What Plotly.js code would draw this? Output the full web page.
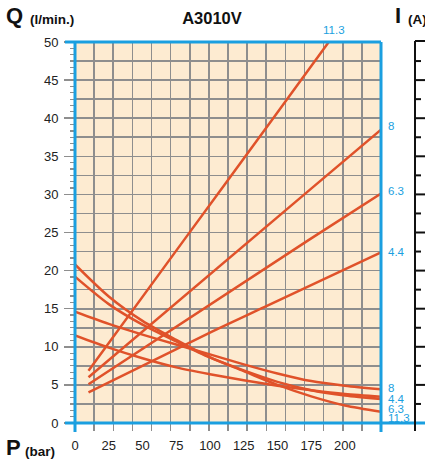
<!DOCTYPE html>
<html>
<head>
<meta charset="utf-8">
<script src="https://cdn.plot.ly/plotly-3.0.1.min.js"></script>
<style>html,body{margin:0;padding:0;background:#fff;}#chart{width:425px;height:464px;}</style>
</head>
<body>
<div id="chart"></div>
<script>
// ---- data ----
var xTickVals = [0, 25, 50, 75, 100, 125, 150, 175, 200];
var yTickVals = [0, 5, 10, 15, 20, 25, 30, 35, 40, 45, 50];
var pMax = 226.7;

// rising lines (current curves)
var riseLabels = ['11.3', '8', '6.3', '4.4'];
var riseP_113 = [10, 80.7, 145.9, 188];
var riseV_113 = [6.86, 24.0, 39.76, 50];
var riseP_8 = [10, 170.6, 226.7];
var riseV_8 = [6.0, 30.1, 38.5];
var riseP_63 = [10, 173, 226.7];
var riseV_63 = [5.08, 24.0, 30.1];
var riseP_44 = [10, 101.5, 141, 226.7];
var riseV_44 = [4.03, 11.98, 15.26, 22.4];

// falling curves (flow curves)
var fallP = [0, 25, 50, 75, 100, 125, 150, 175, 200, 226.7];
var fallV_113 = [20.8, 16.6, 13.4, 10.9, 8.6, 6.8, 5.0, 3.5, 2.3, 1.48];
var fallV_63 = [19.2, 15.6, 12.9, 10.7, 8.6, 6.9, 5.4, 4.3, 3.6, 3.15];
var fallV_44 = [11.5, 9.9, 8.5, 7.3, 6.4, 5.6, 4.9, 4.3, 3.8, 3.45];
var fallV_8 = [14.6, 13.0, 11.6, 10.3, 9.0, 7.7, 6.5, 5.5, 4.9, 4.42];

// label positions at the right end
var riseLabelV = [null, 38.98, 30.4, 22.4];
var fallLabels = ['8', '4.4', '6.3', '11.3'];
var fallLabelV = [4.59, 3.2, 1.84, 0.70];

// ---- style ----
var curveColor = '#e0522a';
var blue = '#1a9fe0';
var gridColor = '#8e8e8e';
var font = 'Liberation Sans, Arial, sans-serif';

function line(x, y) {
  return {x: x, y: y, type: 'scatter', mode: 'lines', line: {color: curveColor, width: 2.5, shape: 'spline', smoothing: 0.8},
    hoverinfo: 'skip', showlegend: false, cliponaxis: true};
}

var traces = [
  line(riseP_113, riseV_113), line(riseP_8, riseV_8), line(riseP_63, riseV_63), line(riseP_44, riseV_44),
  line(fallP, fallV_113), line(fallP, fallV_63), line(fallP, fallV_44), line(fallP, fallV_8),
  {x: [0], y: [0], xaxis: 'x', yaxis: 'y2', type: 'scatter', mode: 'markers', marker: {opacity: 0}, hoverinfo: 'skip', showlegend: false}
];

// geometry helpers (plot area 75..381 x, 42..423 y)
var L = 75, R = 44, T = 42, B = 41, W = 425, H = 464;
var pw = W - L - R, ph = H - T - B;
function px(xp) { return (xp - L) / pw; }
function py(yp) { return (H - B - yp) / ph; }

var shapes = [];
// blue frame
shapes.push({type: 'line', xref: 'paper', yref: 'paper', x0: px(65), x1: 1, y0: 1, y1: 1, line: {color: blue, width: 3}, layer: 'above'});
shapes.push({type: 'line', xref: 'paper', yref: 'paper', x0: px(65), x1: px(425), y0: 0, y1: 0, line: {color: blue, width: 3}, layer: 'above'});
shapes.push({type: 'line', xref: 'paper', yref: 'paper', x0: 0, x1: 0, y0: py(432), y1: 1, line: {color: blue, width: 3}, layer: 'above'});
shapes.push({type: 'line', xref: 'paper', yref: 'paper', x0: 1, x1: 1, y0: py(432), y1: 1, line: {color: blue, width: 3}, layer: 'above'});
// neighbouring (cut) panel frame
shapes.push({type: 'line', xref: 'paper', yref: 'paper', x0: px(415), x1: px(415), y0: py(431), y1: py(41), line: {color: '#111', width: 2}});
shapes.push({type: 'line', xref: 'paper', yref: 'paper', x0: px(415), x1: px(426), y0: py(41), y1: py(41), line: {color: '#111', width: 2}});
for (var v = 2.5; v < 50; v += 2.5) {
  var major = Math.abs(v / 5 - Math.round(v / 5)) < 1e-6;
  shapes.push({type: 'line', xref: 'paper', yref: 'y', x0: px(415), x1: px(major ? 428 : 421), y0: v, y1: v, line: {color: '#111', width: 2}});
}

var annotations = [];
annotations.push({xref: 'paper', yref: 'paper', x: px(334), y: py(30), text: riseLabels[0], showarrow: false,
  xanchor: 'center', yanchor: 'middle', font: {family: font, size: 11.5, color: blue}});
for (var i = 1; i < riseLabels.length; i++) {
  annotations.push({x: pMax, y: riseLabelV[i], xref: 'x', yref: 'y', text: riseLabels[i], showarrow: false,
    xanchor: 'left', xshift: 5, yanchor: 'middle', font: {family: font, size: 11.5, color: blue}});
}
for (var j = 0; j < fallLabels.length; j++) {
  annotations.push({x: pMax, y: fallLabelV[j], xref: 'x', yref: 'y', text: fallLabels[j], showarrow: false,
    xanchor: 'left', xshift: 5, yanchor: 'middle', font: {family: font, size: 11.5, color: blue}});
}
function bigLabel(xp, yp, t, size) {
  annotations.push({xref: 'paper', yref: 'paper', x: px(xp), y: py(yp), xanchor: 'left', yanchor: 'bottom', showarrow: false,
    text: '<b>' + t + '</b>', font: {family: font, size: size, color: '#111'}, borderpad: 0});
}
// baselines: Q/I ~ y 25, P ~ y 457
bigLabel(5, 29, 'Q', 22);
bigLabel(29, 28, '(l/min.)', 13.5);
bigLabel(5, 461, 'P', 22);
bigLabel(24, 460, '(bar)', 13.5);
bigLabel(394, 29, 'I', 22);
bigLabel(407, 28, '(A)', 13.5);

var layout = {
  width: W, height: H,
  margin: {l: L, r: R, t: T, b: B, pad: 0},
  paper_bgcolor: '#ffffff', plot_bgcolor: '#fdebd1',
  title: {text: '<b>A3010V</b>', x: 212 / W, xanchor: 'center', y: 1 - 18 / H, yanchor: 'middle', font: {family: font, size: 16.5, color: '#111'}},
  showlegend: false,
  xaxis: {range: [0, pMax], tickmode: 'array', tickvals: xTickVals, ticks: '', showgrid: false, zeroline: false, showline: false,
    tickfont: {family: font, size: 13, color: '#222'}, ticklabelstandoff: 13, fixedrange: true,
    minor: {tick0: 0, dtick: pMax / 16, ticks: 'outside', ticklen: 7, tickwidth: 1.5, tickcolor: gridColor, showgrid: true, gridcolor: gridColor, gridwidth: 1.6}},
  yaxis: {range: [0, 50], tickmode: 'array', tickvals: yTickVals, ticks: 'outside', ticklen: 10, tickwidth: 1.5, tickcolor: gridColor,
    showgrid: true, gridcolor: gridColor, gridwidth: 1.6, zeroline: false, showline: false, fixedrange: true, ticklabelstandoff: 3,
    tickfont: {family: font, size: 13, color: '#222'},
    minor: {dtick: 2.5, tick0: 0, ticks: '', showgrid: true, gridcolor: gridColor, gridwidth: 1.6}},
  yaxis2: {range: [0, 50], overlaying: 'y', side: 'left', tickmode: 'linear', tick0: 0, dtick: 5 / 6, ticks: 'outside', ticklen: 4,
    tickwidth: 1.2, tickcolor: gridColor, showticklabels: false, showgrid: false, zeroline: false, showline: false, fixedrange: true},
  shapes: shapes,
  annotations: annotations
};

Plotly.newPlot('chart', traces, layout, {staticPlot: true, displayModeBar: false});
</script>
</body>
</html>
